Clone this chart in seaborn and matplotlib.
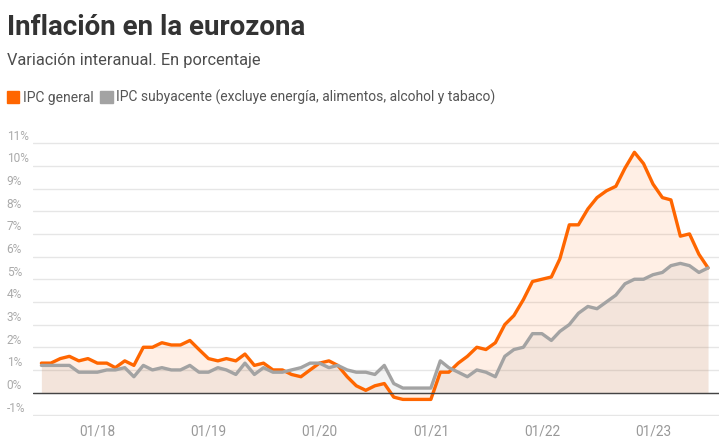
import pandas as pd
import numpy as np
import matplotlib
matplotlib.use('Agg')
import matplotlib.pyplot as plt
import matplotlib.transforms as mtransforms
from matplotlib.patches import Patch
import seaborn as sns

# Datos: variación interanual (%), junio 2017 - junio 2023 (fin de mes)
fechas = pd.date_range('2017-06-01', periods=73, freq='MS') + pd.offsets.MonthEnd(0)

ipc_general = [
    1.3, 1.3, 1.5, 1.6, 1.4, 1.5, 1.3,
    1.3, 1.1, 1.4, 1.2, 2.0, 2.0, 2.2, 2.1, 2.1, 2.3, 1.9, 1.5,
    1.4, 1.5, 1.4, 1.7, 1.2, 1.3, 1.0, 1.0, 0.8, 0.7, 1.0, 1.3,
    1.4, 1.2, 0.7, 0.3, 0.1, 0.3, 0.4, -0.2, -0.3, -0.3, -0.3, -0.3,
    0.9, 0.9, 1.3, 1.6, 2.0, 1.9, 2.2, 3.0, 3.4, 4.1, 4.9, 5.0,
    5.1, 5.9, 7.4, 7.4, 8.1, 8.6, 8.9, 9.1, 9.9, 10.6, 10.1, 9.2,
    8.6, 8.5, 6.9, 7.0, 6.1, 5.5,
]

ipc_subyacente = [
    1.2, 1.2, 1.2, 1.2, 0.9, 0.9, 0.9,
    1.0, 1.0, 1.1, 0.7, 1.2, 1.0, 1.1, 1.0, 1.0, 1.2, 0.9, 0.9,
    1.1, 1.0, 0.8, 1.3, 0.8, 1.1, 0.9, 0.9, 1.0, 1.1, 1.3, 1.3,
    1.1, 1.2, 1.0, 0.9, 0.9, 0.8, 1.2, 0.4, 0.2, 0.2, 0.2, 0.2,
    1.4, 1.1, 0.9, 0.7, 1.0, 0.9, 0.7, 1.6, 1.9, 2.0, 2.6, 2.6,
    2.3, 2.7, 3.0, 3.5, 3.8, 3.7, 4.0, 4.3, 4.8, 5.0, 5.0, 5.2,
    5.3, 5.6, 5.7, 5.6, 5.3, 5.5,
]

y_ticks = list(range(-1, 12))
x_ticks = pd.to_datetime(['2018-01-01', '2019-01-01', '2020-01-01',
                          '2021-01-01', '2022-01-01', '2023-01-01'])
x_labels = ['01/18', '01/19', '01/20', '01/21', '01/22', '01/23']

NARANJA = '#ff6600'
GRIS = '#a3a3a3'

sns.set_theme(style='white')
plt.rcParams['font.family'] = ['Roboto', 'DejaVu Sans']

df = pd.DataFrame({'fecha': fechas,
                   'general': ipc_general,
                   'subyacente': ipc_subyacente})

fig = plt.figure(figsize=(7.19, 4.38), dpi=100)
ax = fig.add_axes([0.0459, 0.0493, 0.9541, 0.6496])

# Áreas
ax.fill_between(df['fecha'], df['general'], 0, color=NARANJA, alpha=0.1, lw=0)
ax.fill_between(df['fecha'], df['subyacente'], 0, color='#8c8c8c', alpha=0.1, lw=0)

# Líneas
sns.lineplot(data=df, x='fecha', y='general', color=NARANJA, linewidth=2.4,
             solid_joinstyle='round', ax=ax)
sns.lineplot(data=df, x='fecha', y='subyacente', color=GRIS, linewidth=2.4,
             solid_joinstyle='round', ax=ax)

ax.axhline(0, color='#444444', lw=1, zorder=3)

# Ejes
ax.set_ylim(-1.05, 11.5)
ax.set_xlim(x_ticks[0] - pd.Timedelta(days=212.6),
            x_ticks[-1] + pd.Timedelta(days=216))
ax.set_yticks(y_ticks)
ax.set_yticklabels([])
ax.set_xticks(x_ticks)
ax.set_xticklabels(x_labels, fontsize=9.8, color='#999999')
ax.tick_params(axis='y', length=0)
ax.tick_params(axis='x', length=4.3, width=1, color='#e6e6e6', pad=1.5)
ax.set_xlabel('')
ax.set_ylabel('')
ax.grid(axis='y', color='#e6e6e6', lw=1)
ax.grid(axis='x', visible=False)
ax.set_axisbelow(True)
for s in ax.spines.values():
    s.set_visible(False)

trans = mtransforms.offset_copy(ax.get_yaxis_transform(), fig=fig, y=3.5, units='dots')
for t in y_ticks:
    ax.text(-0.0383, t, f'{t}%', transform=trans, ha='left', va='baseline',
            fontsize=8.6, color='#aaaaaa', clip_on=False)

# Títulos
fig.text(6.7 / 719, 1 - 35 / 438, 'Inflación en la eurozona', fontsize=20,
         fontweight='bold', color='#333333', ha='left', va='baseline')
fig.text(6.7 / 719, 1 - 65 / 438, 'Variación interanual. En porcentaje',
         fontsize=11.8, color='#4d4d4d', ha='left', va='baseline')

# Leyenda
handles = [Patch(color=NARANJA, label='IPC general'),
           Patch(color=GRIS, label='IPC subyacente (excluye energía, alimentos, alcohol y tabaco)')]
fig.legend(handles=handles, loc='upper left', bbox_to_anchor=(6.7 / 719, 1 - 90 / 438),
           ncol=2, frameon=False, handlelength=0.9, handleheight=0.9,
           handletextpad=0.25, columnspacing=0.5, borderpad=0, borderaxespad=0,
           fontsize=10, labelcolor='#555555')

fig.savefig('out.png', dpi=100)
